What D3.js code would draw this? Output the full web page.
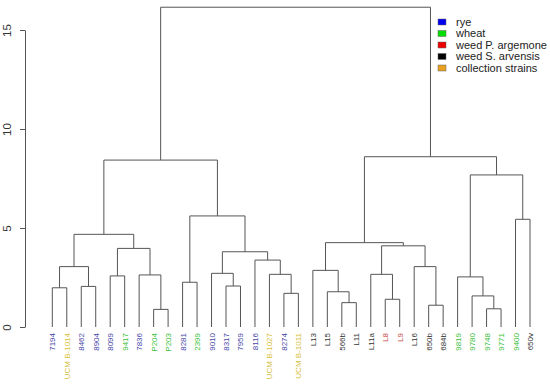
<!DOCTYPE html>
<html>
<head>
<meta charset="utf-8">
<script src="https://cdn.jsdelivr.net/npm/d3@7"></script>
<style>
  body { margin: 0; background: #fff; }
  svg { display: block; font-family: "Liberation Sans", Arial, sans-serif; }
</style>
</head>
<body>
<svg id="chart" width="550" height="385"></svg>
<script>
// leaves in plotted order
const leaves = ['7194', 'UCM B-1014', '8462', '8904', '8099', '9417', '7836', 'P204', 'P203',
    '8281', '2399', '9010', '8317', '7959', '8116', 'UCM B-1027', '8274', 'UCM B-1011',
    'L13', 'L15', '566b', 'L11', 'L11a', 'L8', 'L9', 'L16', '650b', '684b',
    '9819', '9780', '9748', '9771', '9400', '650v'];
const groups = ['rye', 'coll', 'rye', 'rye', 'rye', 'wheat', 'rye', 'wheat', 'wheat',
    'rye', 'wheat', 'rye', 'rye', 'rye', 'rye', 'coll', 'rye', 'coll',
    'weedS', 'weedS', 'weedS', 'weedS', 'weedS', 'weedP', 'weedP', 'weedS', 'weedS', 'weedS',
    'wheat', 'wheat', 'wheat', 'wheat', 'wheat', 'weedS'];

// hclust style merges: negative = leaf (1-based), positive = earlier merge (1-based)
const mergeA = [-8, -1, -3, 2, -5, -7, 5, 4, -10, -13, -12, -17, -16, -15, 11, 9, 8,
    -21, -20, -19, -24, -23, -27, -26, 22, 20, -31, -30, -29, -33, 29, 26, 17];
const mergeB = [-9, -2, -4, 3, -6, 1, 6, 7, -11, -14, 10, -18, 12, 13, 14, 15, 16,
    -22, 18, 19, -25, 21, -28, 23, 24, 25, -32, 27, 28, -34, 30, 31, 32];
const heights = [0.89, 1.98, 2.05, 3.05, 2.58, 2.63, 3.97, 4.68, 2.26, 2.07, 2.71, 1.70, 2.66, 3.38, 3.80, 5.61, 8.43,
    1.23, 1.78, 2.86, 1.40, 2.66, 1.10, 3.05, 4.10, 4.26, 0.92, 1.57, 2.53, 5.44, 7.68, 8.60, 16.15];

const yTicks = [0, 5, 10, 15];

const legendNames = ['rye', 'wheat', 'weed P. argemone', 'weed S. arvensis', 'collection strains'];
const legendFill = ['#0000ee', '#00dd00', '#ee0000', '#000000', '#e8a020'];
const labelColor = { rye: '#4747a8', wheat: '#3cbf3c', weedP: '#c84848', weedS: '#333333', coll: '#d8c040' };

const svg = d3.select('#chart');

const x = d3.scalePoint()
    .domain(leaves)
    .range([52.3, 530]);
const y = d3.scaleLinear()
    .domain([0, 15])
    .range([327, 30]);

// compute node positions
const nodes = heights.map(() => ({}));
function pos(id) {
    if (id < 0) return { x: x(leaves[-id - 1]), h: 0 };
    return nodes[id - 1];
}
heights.forEach((h, i) => {
    const a = pos(mergeA[i]), b = pos(mergeB[i]);
    nodes[i] = { x: (a.x + b.x) / 2, h: h, a: a, b: b };
});

const g = svg.append('g')
    .attr('fill', 'none')
    .attr('stroke', '#555')
    .attr('stroke-width', 1);

g.selectAll('path')
    .data(nodes)
    .join('path')
    .attr('d', d => `M${d.a.x},${y(d.a.h)}V${y(d.h)}H${d.b.x}V${y(d.b.h)}`);

// y axis
const axis = svg.append('g')
    .attr('transform', 'translate(25,0)')
    .call(d3.axisLeft(y).tickValues(yTicks).tickSize(5).tickSizeOuter(0));
axis.select('.domain').attr('stroke', '#555');
axis.selectAll('.tick line').attr('stroke', '#555');
axis.selectAll('.tick text')
    .attr('font-size', 11.5)
    .attr('fill', '#333')
    .attr('text-anchor', 'middle')
    .attr('x', null).attr('dy', null)
    .attr('transform', 'translate(-14,0) rotate(-90)');

// leaf labels
svg.append('g')
    .attr('font-size', 8)
    .attr('text-anchor', 'end')
    .selectAll('text')
    .data(leaves)
    .join('text')
    .attr('transform', d => `translate(${x(d) + 3},333) rotate(-90)`)
    .attr('fill', (d, i) => labelColor[groups[i]])
    .text(d => d);

// legend
const lg = svg.append('g')
    .attr('transform', 'translate(438,22)');
lg.selectAll('rect')
    .data(legendNames)
    .join('rect')
    .attr('x', 0)
    .attr('y', (d, i) => i * 11.5 - 3)
    .attr('width', 8)
    .attr('height', 6)
    .attr('fill', (d, i) => legendFill[i])
    .attr('stroke', '#666')
    .attr('stroke-width', 0.5);
lg.selectAll('text')
    .data(legendNames)
    .join('text')
    .attr('x', 18)
    .attr('y', (d, i) => i * 11.5)
    .attr('dy', '0.35em')
    .attr('font-size', 11)
    .attr('fill', '#222')
    .text(d => d);
</script>
</body>
</html>
